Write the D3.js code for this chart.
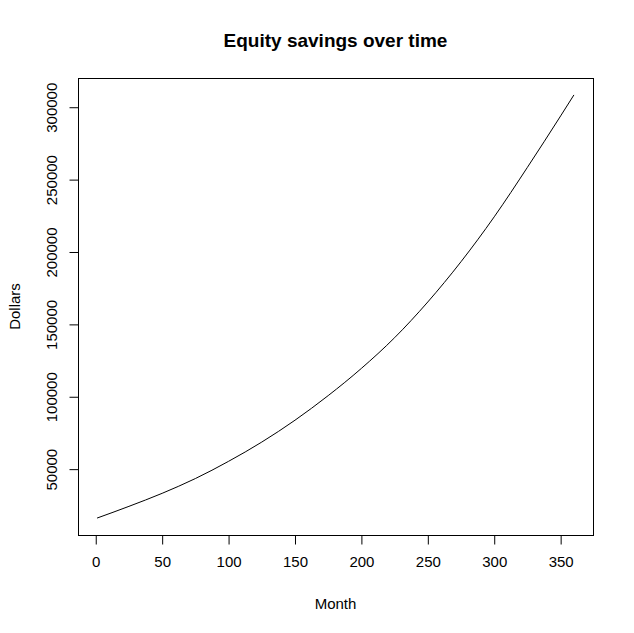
<!DOCTYPE html>
<html>
<head>
<meta charset="utf-8">
<script src="https://cdn.jsdelivr.net/npm/d3@7"></script>
<style>
  body { margin: 0; background: #fff; }
  svg text { font-family: "Liberation Sans", Arial, sans-serif; fill: #000; }
</style>
</head>
<body>
<svg id="chart"></svg>
<script>
const WIDTH = 634;
const HEIGHT = 633;

// plot box (R base graphics style)
const LEFT = 78, RIGHT = 593, TOP = 78, BOTTOM = 535;

// values
const months = [1, 25, 50, 75, 100, 125, 150, 175, 200, 225, 250, 275, 300, 325, 350, 360];
const dollars = [16200, 24300, 33300, 43500, 55400, 68700, 83800, 100800, 119600, 140800, 165500, 193300, 224300, 258500, 294000, 308500];

const xTicks = [0, 50, 100, 150, 200, 250, 300, 350];
const yTicks = [50000, 100000, 150000, 200000, 250000, 300000];

const TITLE = "Equity savings over time";
const X_LABEL = "Month";
const Y_LABEL = "Dollars";

function padded(lo, hi){
    var r = hi - lo;
    return [lo - 0.04 * r, hi + 0.04 * r];
}

function main(){
    var svg = d3.select("#chart")
        .attr("width", WIDTH)
        .attr("height", HEIGHT);

    var x = d3.scaleLinear()
        .domain(padded(d3.min(months), d3.max(months)))
        .range([LEFT, RIGHT]);
    var y = d3.scaleLinear()
        .domain(padded(d3.min(dollars), d3.max(dollars)))
        .range([BOTTOM, TOP]);

    var pts = months.map((m, i) => [m, dollars[i]]);

    var line = d3.line()
        .x(d => x(d[0]))
        .y(d => y(d[1]))
        .curve(d3.curveMonotoneX);

    svg.append("path")
        .datum(pts)
        .attr("d", line)
        .attr("fill", "none")
        .attr("stroke", "#000")
        .attr("stroke-width", 1);

    // box
    svg.append("rect")
        .attr("x", LEFT + 0.5).attr("y", TOP + 0.5)
        .attr("width", RIGHT - LEFT).attr("height", BOTTOM - TOP)
        .attr("fill", "none").attr("stroke", "#000").attr("stroke-width", 1);

    // x axis
    var xAxis = d3.axisBottom(x)
        .tickValues(xTicks)
        .tickSize(9)
        .tickSizeOuter(0)
        .tickPadding(12)
        .tickFormat(d3.format("d"));
    var gx = svg.append("g")
        .attr("transform", "translate(0," + (BOTTOM + 0.5) + ")")
        .call(xAxis);
    gx.select(".domain")
        .attr("d", "M" + x(xTicks[0]) + ",0H" + x(xTicks[xTicks.length - 1]));
    gx.selectAll("text").style("font-size", "15px").style("font-family", "Liberation Sans, Arial, sans-serif");

    // y axis
    var yAxis = d3.axisLeft(y)
        .tickValues(yTicks)
        .tickSize(9)
        .tickSizeOuter(0)
        .tickFormat(d3.format("d"));
    var gy = svg.append("g")
        .attr("transform", "translate(" + (LEFT + 0.5) + ",0)")
        .call(yAxis);
    gy.select(".domain")
        .attr("d", "M0," + y(yTicks[0]) + "V" + y(yTicks[yTicks.length - 1]));
    gy.selectAll(".tick text")
        .attr("x", null).attr("dy", null)
        .attr("text-anchor", "middle")
        .attr("transform", "translate(-22,0) rotate(-90)")
        .style("font-size", "15px")
        .style("font-family", "Liberation Sans, Arial, sans-serif");
    svg.selectAll(".tick line").attr("stroke", "#000");
    svg.selectAll(".domain").attr("stroke", "#000");

    // title and labels
    svg.append("text")
        .attr("x", (LEFT + RIGHT) / 2).attr("y", 47)
        .attr("text-anchor", "middle")
        .style("font-size", "19px").style("font-weight", "bold")
        .text(TITLE);

    svg.append("text")
        .attr("x", (LEFT + RIGHT) / 2).attr("y", 609)
        .attr("text-anchor", "middle")
        .style("font-size", "15px")
        .text(X_LABEL);

    svg.append("text")
        .attr("transform", "translate(20," + (TOP + BOTTOM) / 2 + ") rotate(-90)")
        .attr("text-anchor", "middle")
        .style("font-size", "15px")
        .text(Y_LABEL);
}

main();
</script>
</body>
</html>
